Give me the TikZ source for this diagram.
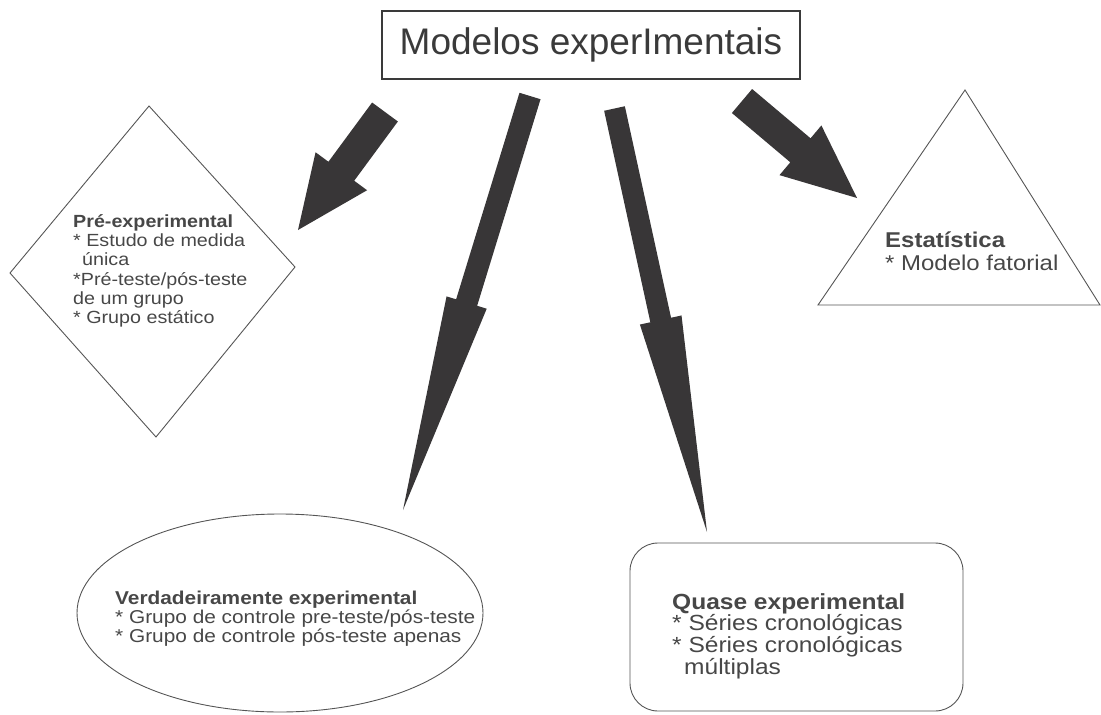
\documentclass[tikz,border=0pt]{standalone}
\usepackage{fontspec}
\setmainfont{Liberation Sans}
\newfontfamily\modwide{Liberation Sans}[FakeStretch=1.12]
\usetikzlibrary{calc,shapes.geometric}
\definecolor{modink}{HTML}{3A3A3A}
\definecolor{modtext}{HTML}{474747}
\definecolor{modline}{HTML}{555555}
\definecolor{modarrow}{HTML}{383637}
% block arrow: name, tail, tip, half shaft, half head, head length
\newcommand\blockarrow[6]{%
  \coordinate (#1-h) at ($(#3)!#6!(#2)$);
  \fill[modarrow] ($(#2)!#4!90:(#3)$) -- ($(#1-h)!#4!90:(#3)$) -- ($(#1-h)!#5!90:(#3)$)
    -- (#3) -- ($(#1-h)!#5!-90:(#3)$) -- ($(#1-h)!#4!-90:(#3)$) -- ($(#2)!#4!-90:(#3)$) -- cycle;}

\begin{document}
\begin{tikzpicture}[x=1pt, y=-1pt]
  \tikzset{outline/.style={draw=modline, line width=0.9pt},
           txt/.style={anchor=north west, inner sep=0, align=left, text=modtext}}
  \useasboundingbox (0,0) rectangle (1101,715);
  % title
  \node[draw=modink, line width=1.2pt, minimum width=418pt, minimum height=68pt, inner sep=0,
        text=modink, font=\fontsize{37}{40}\selectfont] (modelos) at (591,45) {Modelos experImentais};
  % shapes
  \draw[outline] (149,106) -- (295,267) -- (156,437) -- (10,273) -- cycle;
  \draw[outline] (818,305) -- (965,90) -- (1100,305) -- cycle;
  \node[outline, ellipse, minimum width=406pt, minimum height=198pt, inner sep=0] (verdshape) at (280,613) {};
  \node[outline, rectangle, rounded corners=28pt, minimum width=333pt, minimum height=168pt, inner sep=0] (quaseshape) at (796.5,627) {};
  % texts
  \node[txt, font=\modwide\fontsize{17.6}{19.3}\selectfont] (pre) at (73,214)
    {\textbf{Pré-experimental}\\* Estudo de medida\\\hspace*{9pt}única\\*Pré-teste/pós-teste\\de um grupo\\* Grupo estático};
  \node[txt, font=\modwide\fontsize{21.4}{23}\selectfont] (estat) at (885,231.5)
    {\textbf{Estatística}\\* Modelo fatorial};
  \node[txt, font=\modwide\fontsize{18.6}{19}\selectfont] (verd) at (115,591)
    {\textbf{Verdadeiramente experimental}\\* Grupo de controle pre-teste/pós-teste\\* Grupo de controle pós-teste apenas};
  \node[txt, font=\modwide\fontsize{21.9}{19.5}\selectfont] (quase) at (672,593)
    {\textbf{Quase experimental}\\* Séries cronológicas\\* Séries cronológicas\\\hspace*{12pt}múltiplas};
  % arrows
  \coordinate (tail-pre) at (385,112);     \coordinate (tip-pre) at (298,230);
  \coordinate (tail-verd) at (530,96);     \coordinate (tip-verd) at (403,510);
  \coordinate (tail-quase) at (614.5,108.5); \coordinate (tip-quase) at (707,532);
  \coordinate (tail-estat) at (742,101);   \coordinate (tip-estat) at (857,198);
  \blockarrow{a-pre}{tail-pre}{tip-pre}{16pt}{32pt}{73pt}
  \blockarrow{a-verd}{tail-verd}{tip-verd}{11pt}{21pt}{217pt}
  \blockarrow{a-quase}{tail-quase}{tip-quase}{10.6pt}{21.3pt}{217pt}
  \blockarrow{a-estat}{tail-estat}{tip-estat}{15.7pt}{32.5pt}{74pt}
\end{tikzpicture}
\end{document}
